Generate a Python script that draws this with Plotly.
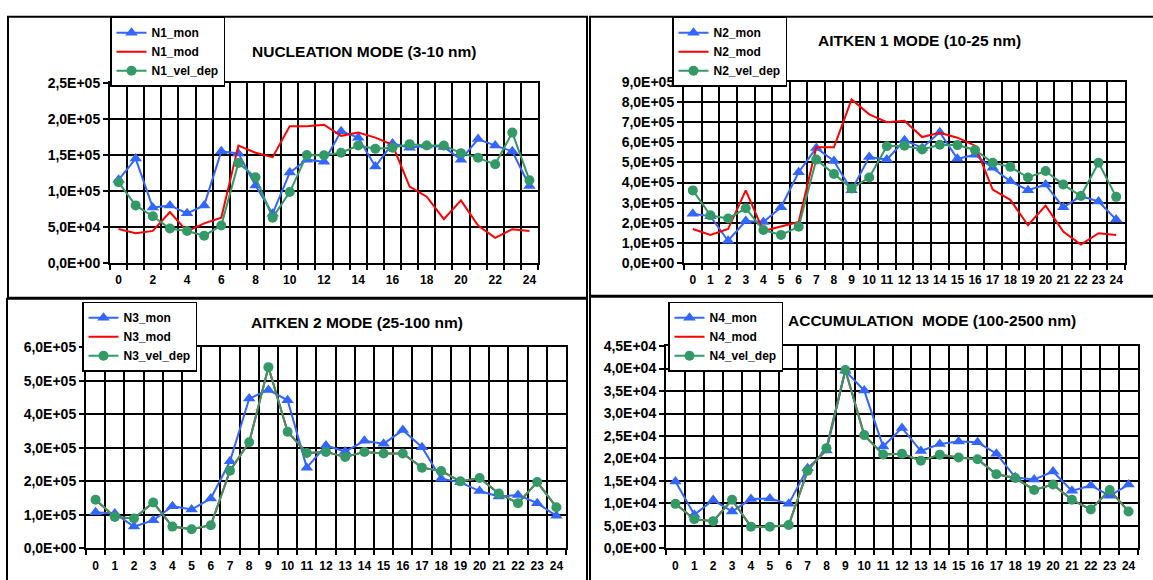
import plotly.graph_objects as go

W, H = 1153, 580
hours = list(range(25))

# ---------------- data ----------------
n1_mon = [115500, 145000, 77000, 80000, 69000, 80000, 155000, 152000, 107500, 68500, 125500, 143500, 140500,
          183000, 174000, 134000, 166000, 160000, 163000, 161000, 143500, 172000, 163000, 155000, 107000]
n1_mod = [47300, 41400, 44600, 70700, 44000, 55000, 63000, 163000, 153000, 147000, 190000, 190000, 192000,
          176500, 181000, 174000, 164000, 106000, 92000, 61000, 87000, 52000, 35000, 47000, 44500]
n1_vel = [112000, 80000, 65000, 48000, 44500, 38000, 52000, 139000, 119000, 63000, 98500, 150000, 149500,
          153000, 163000, 158500, 160000, 165000, 163000, 163000, 152500, 146000, 137000, 181000, 115000]

n2_mon = [245000, 232000, 111000, 209000, 204000, 277000, 451000, 572000, 507000, 362000, 527000, 514000, 610000,
          572000, 650000, 518000, 538000, 473000, 406000, 362000, 390000, 277000, 333000, 306000, 216000]
n2_mod = [169000, 140000, 169000, 361000, 159000, 180000, 204000, 575000, 575000, 813000, 739000, 700000, 707000,
          626000, 647000, 623000, 583000, 365000, 314000, 188000, 285000, 156000, 92000, 148000, 140000]
n2_vel = [361000, 237000, 221000, 272000, 164000, 140000, 180000, 514000, 443000, 370000, 425000, 580000, 583000,
          564000, 588000, 586000, 562000, 498000, 478000, 425000, 457000, 390000, 333000, 498000, 329000]

n3_mon = [108000, 104000, 65000, 84000, 126000, 116000, 149000, 260000, 447000, 473000, 442000, 241000, 307000,
          289000, 321000, 312000, 353000, 302000, 208000, 197000, 171000, 155000, 159000, 135000, 97000]
n3_mod = [145000, 94000, 89000, 137000, 65000, 57000, 69000, 232000, 317000, 541000, 348000, 285000, 288000,
          273000, 288000, 283000, 283000, 241000, 231000, 200000, 210000, 164000, 135000, 198000, 123000]
n3_vel = [145000, 94000, 89000, 137000, 65000, 57000, 69000, 232000, 317000, 541000, 348000, 285000, 288000,
          273000, 288000, 283000, 283000, 241000, 231000, 200000, 210000, 164000, 135000, 198000, 123000]

n4_mon = [14900, 7500, 10750, 8200, 10970, 11100, 9900, 17800, 21800, 39500, 35100, 22650, 26800,
          21650, 23200, 23800, 23600, 21070, 15800, 15300, 17100, 12800, 14000, 11700, 14200]
n4_mod = [9900, 6500, 6060, 10800, 4830, 4830, 5200, 17250, 22300, 39700, 25200, 20900, 21070,
          19500, 20850, 20200, 19840, 16500, 15650, 13000, 14200, 10800, 8660, 13000, 8200]
n4_vel = [9900, 6500, 6060, 10800, 4830, 4830, 5200, 17250, 22300, 39700, 25200, 20900, 21070,
          19500, 20850, 20200, 19840, 16500, 15650, 13000, 14200, 10800, 8660, 13000, 8200]

titles = ["NUCLEATION MODE (3-10 nm)", "AITKEN 1 MODE (10-25 nm)",
          "AITKEN 2 MODE (25-100 nm)", "ACCUMULATION  MODE (100-2500 nm)"]

y1_ticks = [0, 50000, 100000, 150000, 200000, 250000]
y1_text = ["0,0E+00", "5,0E+04", "1,0E+05", "1,5E+05", "2,0E+05", "2,5E+05"]
y2_ticks = [i * 100000 for i in range(10)]
y2_text = ["0,0E+00", "1,0E+05", "2,0E+05", "3,0E+05", "4,0E+05", "5,0E+05",
           "6,0E+05", "7,0E+05", "8,0E+05", "9,0E+05"]
y3_ticks = [i * 100000 for i in range(7)]
y3_text = ["0,0E+00", "1,0E+05", "2,0E+05", "3,0E+05", "4,0E+05", "5,0E+05", "6,0E+05"]
y4_ticks = [i * 5000 for i in range(10)]
y4_text = ["0,0E+00", "5,0E+03", "1,0E+04", "1,5E+04", "2,0E+04", "2,5E+04",
           "3,0E+04", "3,5E+04", "4,0E+04", "4,5E+04"]

x1_ticks = list(range(0, 25, 2))
x_all_ticks = hours

# ---------------- styling ----------------
BLUE = "#3366FF"
RED = "#FF0000"
GREEN = "#339966"
FONT = "Liberation Sans"


def px(x):
    return x / W


def py(y):
    return 1 - y / H


def b(s):
    return "<b>" + s + "</b>"


panels = [
    dict(series=[("N1_mon", n1_mon), ("N1_mod", n1_mod), ("N1_vel_dep", n1_vel)],
         xdom=(110, 538), ydom=(262.3, 77), yt=y1_ticks, ytt=y1_text, xt=x1_ticks,
         legend=(110, 9), title=(364, 45)),
    dict(series=[("N2_mon", n2_mon), ("N2_mod", n2_mod), ("N2_vel_dep", n2_vel)],
         xdom=(684, 1125), ydom=(262.3, 76), yt=y2_ticks, ytt=y2_text, xt=x_all_ticks,
         legend=(672, 9), title=(919, 33)),
    dict(series=[("N3_mon", n3_mon), ("N3_mod", n3_mod), ("N3_vel_dep", n3_vel)],
         xdom=(86, 566), ydom=(555.7, 349), yt=y3_ticks, ytt=y3_text, xt=x_all_ticks,
         legend=(82, 302), title=(357, 323)),
    dict(series=[("N4_mon", n4_mon), ("N4_mod", n4_mod), ("N4_vel_dep", n4_vel)],
         xdom=(666, 1138), ydom=(555.7, 347.7), yt=y4_ticks, ytt=y4_text, xt=x_all_ticks,
         legend=(668, 302), title=(932, 321)),
]

fig = go.Figure()
layout = dict(width=W, height=H, autosize=False, margin=dict(l=0, r=0, t=0, b=0),
              paper_bgcolor="white", plot_bgcolor="white", showlegend=True,
              font=dict(family=FONT, color="black"))
annotations = []
shapes = []

for i, p in enumerate(panels):
    k = "" if i == 0 else str(i + 1)
    xa, ya = "x" + k, "y" + k
    leg = "legend" + k
    styles = [
        dict(mode="lines+markers", line=dict(color=BLUE, width=2),
             marker=dict(symbol="triangle-up", size=11, color=BLUE)),
        dict(mode="lines", line=dict(color=RED, width=2)),
        dict(mode="lines+markers", line=dict(color=GREEN, width=2),
             marker=dict(symbol="circle", size=10, color=GREEN)),
    ]
    for j, (name, vals) in enumerate(p["series"]):
        fig.add_trace(go.Scatter(x=hours, y=vals, name=b(name), xaxis=xa, yaxis=ya,
                                 legend=leg, legendgroup=f"{i}_{j}", cliponaxis=False,
                                 **styles[j]))
    ymax = p["yt"][-1]
    layout["xaxis" + k] = dict(
        domain=[px(p["xdom"][0]), px(p["xdom"][1])], anchor=ya,
        range=[-0.5, 24.5], tickmode="array", tickvals=p["xt"],
        ticktext=[b(str(v)) for v in p["xt"]], showgrid=False, zeroline=False,
        ticks="", showline=True, linecolor="black", linewidth=2, mirror=True,
        tickfont=dict(family=FONT, size=12, color="black"),
        ticklabelstandoff=5,
        minor=dict(tickmode="array", tickvals=[h - 0.5 for h in range(26)],
                   showgrid=True, gridcolor="black", gridwidth=1.6,
                   ticks="outside", ticklen=5, tickcolor="black", tickwidth=1.5),
    )
    layout["yaxis" + k] = dict(
        domain=[py(p["ydom"][0]), py(p["ydom"][1])], anchor=xa,
        range=[0, ymax], tickmode="array", tickvals=p["yt"], ticktext=[b(t) for t in p["ytt"]],
        showgrid=True, gridcolor="black", gridwidth=1.6, zeroline=False,
        ticks="outside", ticklen=5, tickcolor="black", tickwidth=1.5,
        showline=True, linecolor="black", linewidth=2, mirror=True,
        tickfont=dict(family=FONT, size=14, color="black"),
    )
    layout[leg] = dict(
        x=px(p["legend"][0]), y=py(p["legend"][1]), xanchor="left", yanchor="top",
        bgcolor="white", bordercolor="black", borderwidth=1.5, tracegroupgap=2,
        font=dict(family=FONT, size=12, color="black"),
        traceorder="normal", itemwidth=30,
    )
    annotations.append(dict(
        x=px(p["title"][0]), y=py(p["title"][1]), xref="paper", yref="paper",
        text=b(titles[i]), showarrow=False, xanchor="center", yanchor="middle",
        font=dict(family=FONT, size=15.5, color="black")))

# panel frames
frames = [(8, 9, 587, 298), (590, 9, 1160, 296), (7, 299, 587, 590), (590, 297, 1160, 590)]
for (x0, y0, x1, y1) in frames:
    shapes.append(dict(type="rect", xref="paper", yref="paper",
                       x0=px(x0), x1=px(x1), y0=py(y1), y1=py(y0),
                       line=dict(color="black", width=2), layer="below"))

layout["annotations"] = annotations
layout["shapes"] = shapes
fig.update_layout(**layout)

fig.write_html("out.html", config={"displayModeBar": False},
               post_script="document.body.style.margin='0';document.body.style.overflow='hidden';")
